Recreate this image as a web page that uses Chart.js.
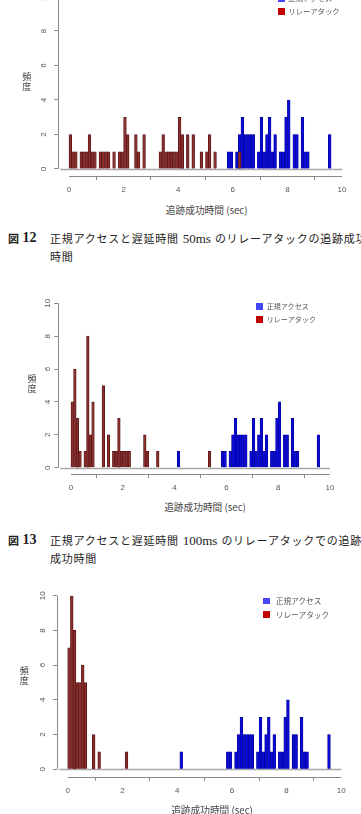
<!DOCTYPE html>
<html>
<head>
<meta charset="utf-8">
<script src="https://cdn.jsdelivr.net/npm/chart.js@4.4.1/dist/chart.umd.min.js"></script>
<style>
  html, body { margin: 0; padding: 0; background: #fff; }
  body { position: relative; width: 361px; height: 814px; overflow: hidden; font-family: "Noto Sans CJK JP", sans-serif; }
  .panel { position: absolute; left: 0; width: 361px; }
  .ytitle { position: absolute; width: 12px; font-size: 9px; line-height: 10px; color: #444; text-align: center; }
  .xtitle { position: absolute; font-size: 9.7px; line-height: 12px; color: #444; white-space: nowrap; transform: translateX(-50%); }
  .sq { position: absolute; }
  .lg { position: absolute; white-space: nowrap; color: #555; line-height: 10px; }
  .cap { position: absolute; left: 0; width: 361px; height: 14px; line-height: 14px; white-space: nowrap; color: #222; font-size: 11px; }
  .cap .fig { position: absolute; left: 8px; font-weight: bold; }
  .cap .num { position: absolute; left: 22.5px; font-family: "Liberation Serif", serif; font-size: 14px; font-weight: bold; }
  .cap .body { position: absolute; left: 50px; letter-spacing: 0.75px; }
  .cap .lat { font-family: "Liberation Serif", serif; font-size: 13px; letter-spacing: 0; margin: 0 4px 0 4px; }
</style>
</head>
<body>

<div class="panel" id="p1"><canvas id="hist50"></canvas></div>
<div class="panel" id="p2"><canvas id="hist100"></canvas></div>
<div class="panel" id="p3"><canvas id="hist3"></canvas></div>

<div class="cap" style="top:231px"><b class="fig">図</b><b class="num">12</b><span class="body">正規アクセスと遅延時間<span class="lat">50ms</span>のリレーアタックの追跡成功</span></div>
<div class="cap" style="top:249px"><span class="body">時間</span></div>

<div class="cap" style="top:533px"><b class="fig">図</b><b class="num">13</b><span class="body">正規アクセスと遅延時間<span class="lat">100ms</span>のリレーアタックでの追跡</span></div>
<div class="cap" style="top:551px"><span class="body">成功時間</span></div>

<script>
// histogram counts, one value per 0.1 s bin from 0 to 10 s
const normalAccess = [
  0, 0, 0, 0, 0, 0, 0, 0, 0, 0,
  0, 0, 0, 0, 0, 0, 0, 0, 0, 0,
  0, 0, 0, 0, 0, 0, 0, 0, 0, 0,
  0, 0, 0, 0, 0, 0, 0, 0, 0, 0,
  0, 1, 0, 0, 0, 0, 0, 0, 0, 0,
  0, 0, 0, 0, 0, 0, 0, 0, 1, 1,
  0, 1, 2, 3, 2, 2, 2, 2, 0, 1,
  3, 1, 2, 3, 1, 2, 0, 1, 1, 3,
  4, 0, 2, 2, 0, 3, 1, 1, 0, 0,
  0, 0, 0, 0, 0, 2, 0, 0, 0, 0
];
const relay50 = [
  2, 1, 1, 0, 1, 1, 1, 2, 1, 1,
  0, 1, 1, 1, 1, 0, 1, 0, 1, 1,
  3, 2, 0, 0, 2, 1, 0, 2, 0, 0,
  0, 0, 0, 1, 2, 1, 1, 1, 1, 1,
  3, 2, 0, 2, 0, 2, 0, 0, 1, 0,
  1, 2, 0, 1, 0, 0, 0, 0, 0, 0,
  0, 0, 1, 0, 0, 0, 0, 0, 0, 0,
  0, 0, 0, 0, 0, 0, 0, 0, 0, 0,
  0, 0, 0, 0, 0, 0, 0, 0, 0, 0,
  0, 0, 0, 0, 0, 0, 0, 0, 0, 0
];
const relay100 = [
  4, 6, 3, 1, 0, 1, 8, 2, 4, 0,
  0, 0, 5, 0, 2, 0, 1, 1, 3, 1,
  1, 1, 1, 0, 0, 0, 0, 0, 2, 1,
  0, 0, 0, 1, 0, 0, 0, 0, 0, 0,
  0, 0, 0, 0, 0, 0, 0, 0, 0, 0,
  0, 0, 0, 1, 0, 0, 0, 0, 0, 0,
  0, 0, 0, 0, 0, 0, 0, 0, 0, 0,
  0, 0, 0, 0, 0, 0, 0, 0, 0, 0,
  0, 0, 0, 0, 0, 0, 0, 0, 0, 0,
  0, 0, 0, 0, 0, 0, 0, 0, 0, 0
];
const relay3 = [
  7, 10, 8, 5, 5, 6, 5, 0, 0, 2,
  0, 1, 0, 0, 0, 0, 0, 0, 0, 0,
  0, 1, 0, 0, 0, 0, 0, 0, 0, 0,
  0, 0, 0, 0, 0, 0, 0, 0, 0, 0,
  0, 0, 0, 0, 0, 0, 0, 0, 0, 0,
  0, 0, 0, 0, 0, 0, 0, 0, 0, 0,
  0, 0, 0, 0, 0, 0, 0, 0, 0, 0,
  0, 0, 0, 0, 0, 0, 0, 0, 0, 0,
  0, 0, 0, 0, 0, 0, 0, 0, 0, 0,
  0, 0, 0, 0, 0, 0, 0, 0, 0, 0
];
const binWidth = 0.1;
const xTicks = [0, 2, 4, 6, 8, 10];
const yTicks = [0, 2, 4, 6, 8, 10];
const seriesNames = ["正規アクセス", "リレーアタック"];
const xTitle = "追跡成功時間 (sec)";
const yTitle = "頻度";

// page geometry of each plot (px)
const panels = [
  { el: "p1", canvas: "hist50",  relay: relay50,  top: -10, height: 210,
    area: { left: 58, right: 342, top: -3.5, bottom: 176 }, xMin: -0.403, yMin: -0.406,
    yPad: 6.2, xPad: 5.2, ytl: { x: 26.7, y: 82 }, xtl: { x: 206.7, y: 210 },
    leg: { sq: 278, size: 7, text: 288.3, y: [-2, 11], font: 7.4 } },
  { el: "p2", canvas: "hist100", relay: relay100, top: 290, height: 206,
    area: { left: 58.3, right: 330, top: 303.3, bottom: 474 }, xMin: -0.49, yMin: -0.383,
    yPad: 2.1, xPad: 4.9, ytl: { x: 32, y: 384 }, xtl: { x: 205, y: 507 },
    leg: { sq: 256, size: 6.5, text: 266.7, y: [306.3, 319.3], font: 7.1 } },
  { el: "p3", canvas: "hist3",   relay: relay3,   top: 585, height: 229,
    area: { left: 57.3, right: 341.3, top: 595.7, bottom: 776.7 }, xMin: -0.38, yMin: -0.426,
    yPad: 6.1, xPad: 5.5, ytl: { x: 24.3, y: 676 }, xtl: { x: 212, y: 810 },
    leg: { sq: 263.3, size: 6.7, text: 275.7, y: [601, 614.7], font: 7.7 } }
];

const toPoints = counts => counts.map((c, i) => ({ x: (i + 0.5) * binWidth, y: c > 0 ? c : null }));

// R-style axes: lines only from 0 to 10, plus grey baseline at zero
const rAxes = {
  id: "rAxes",
  beforeDatasetsDraw(chart) {
    const { ctx, chartArea, scales: { x, y } } = chart;
    const y0 = Math.round(y.getPixelForValue(0)) + 0.5;
    ctx.save();
    ctx.strokeStyle = "#a8a8a8";
    ctx.lineWidth = 1.4;
    ctx.beginPath();
    ctx.moveTo(chartArea.left + 2, y0);
    ctx.lineTo(x.getPixelForValue(10), y0);
    ctx.stroke();
    ctx.restore();
  },
  afterDraw(chart) {
    const { ctx, scales: { x, y } } = chart;
    ctx.save();
    ctx.strokeStyle = "#8a8a8a";
    ctx.lineWidth = 1;
    const ax = Math.round(y.right) + 0.5;
    ctx.beginPath();
    ctx.moveTo(ax, y.getPixelForValue(0));
    ctx.lineTo(ax, y.getPixelForValue(10));
    const ay = Math.round(x.top) + 0.5;
    ctx.moveTo(x.getPixelForValue(0), ay);
    ctx.lineTo(x.getPixelForValue(10), ay);
    ctx.stroke();
    ctx.restore();
  }
};

const tickFont = { family: "Liberation Sans", size: 8 };

panels.forEach(p => {
  const box = document.getElementById(p.el);
  box.style.top = p.top + "px";
  box.style.height = p.height + "px";

  const areaBottom = p.area.bottom - p.top;

  new Chart(document.getElementById(p.canvas), {
    type: "bar",
    data: {
      datasets: [
        { label: seriesNames[1], data: toPoints(p.relay), backgroundColor: "#8a2e2e", borderColor: "#561515", borderWidth: 0.8, grouped: false, barPercentage: 1, categoryPercentage: 1, order: 0 },
        { label: seriesNames[0], data: toPoints(normalAccess), backgroundColor: "#0a0ad4", borderColor: "#00008e", borderWidth: 0.6, grouped: false, barPercentage: 1, categoryPercentage: 1, order: 1 }
      ]
    },
    options: {
      responsive: true,
      maintainAspectRatio: false,
      animation: false,
      layout: { padding: { left: 0, top: p.area.top - p.top, right: 361 - p.area.right, bottom: 0 } },
      plugins: { legend: { display: false }, tooltip: { enabled: false } },
      scales: {
        x: {
          type: "linear", offset: false, min: p.xMin, max: 10,
          afterBuildTicks: s => { s.ticks = xTicks.map(v => ({ value: v })); },
          afterFit: s => { s.height = p.height - areaBottom; s.paddingLeft = 0; s.paddingRight = 0; },
          grid: { display: true, drawOnChartArea: false, drawTicks: true, tickLength: 4, color: "#8a8a8a" },
          border: { display: false },
          ticks: { font: tickFont, color: "#555", padding: p.xPad, maxRotation: 0, autoSkip: false }
        },
        y: {
          min: p.yMin, max: 10,
          afterBuildTicks: s => { s.ticks = yTicks.map(v => ({ value: v })); },
          afterFit: s => { s.width = p.area.left; s.paddingTop = 0; s.paddingBottom = 0; },
          grid: { display: true, drawOnChartArea: false, drawTicks: true, tickLength: 4, color: "#8a8a8a" },
          border: { display: false },
          ticks: { font: tickFont, color: "#555", padding: p.yPad, minRotation: 90, maxRotation: 90, crossAlign: "center", autoSkip: false }
        }
      }
    },
    plugins: [rAxes]
  });

  // axis titles
  const yt = document.createElement("div");
  yt.className = "ytitle";
  yt.innerHTML = yTitle.split("").join("<br>");
  yt.style.left = (p.ytl.x - 6) + "px";
  yt.style.top = (p.ytl.y - 10) + "px";
  document.body.appendChild(yt);

  const xt = document.createElement("div");
  xt.className = "xtitle";
  xt.textContent = xTitle;
  xt.style.left = p.xtl.x + "px";
  xt.style.top = (p.xtl.y - 6) + "px";
  document.body.appendChild(xt);

  // legend
  const legColors = ["#4646ff", "#c20000"];
  seriesNames.forEach((name, k) => {
    const sq = document.createElement("div");
    sq.className = "sq";
    sq.style.left = p.leg.sq + "px";
    sq.style.top = (p.leg.y[k] - p.leg.size / 2) + "px";
    sq.style.width = p.leg.size + "px";
    sq.style.height = p.leg.size + "px";
    sq.style.background = legColors[k];
    document.body.appendChild(sq);

    const t = document.createElement("div");
    t.className = "lg";
    t.textContent = name;
    t.style.left = p.leg.text + "px";
    t.style.top = (p.leg.y[k] - 5) + "px";
    t.style.fontSize = p.leg.font + "px";
    document.body.appendChild(t);
  });
});
</script>
</body>
</html>
